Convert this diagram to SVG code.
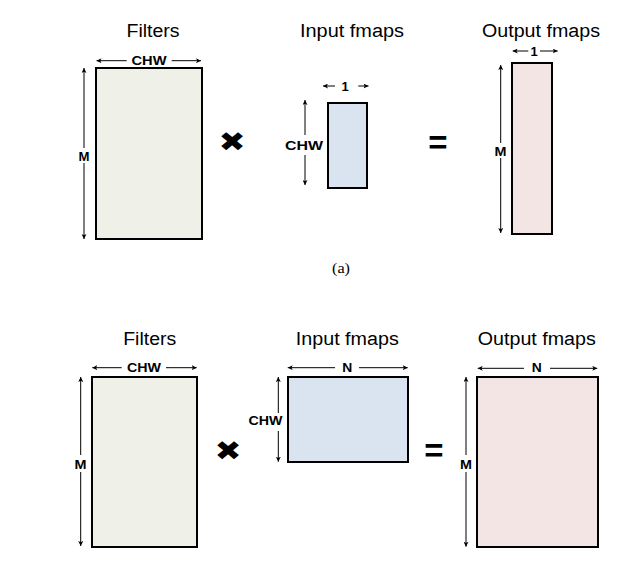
<svg xmlns="http://www.w3.org/2000/svg" width="634" height="561" viewBox="0 0 634 561">
<defs>
<marker id="ah" viewBox="0 0 10 10" refX="10" refY="5" markerWidth="5" markerHeight="5" orient="auto-start-reverse" markerUnits="userSpaceOnUse">
<path d="M0,0 L10,5 L0,10 L2.5,5 Z" fill="#000"/>
</marker>
</defs>
<style>
.title{font-family:"Liberation Sans",Arial,sans-serif;font-size:18px;fill:#000;text-anchor:middle}
.lbl{font-family:"Liberation Sans",Arial,sans-serif;font-size:13px;font-weight:bold;fill:#000;text-anchor:middle}
.op{font-family:"Liberation Sans",Arial,sans-serif;font-weight:bold;fill:#000;text-anchor:middle}
.x{font-family:"DejaVu Sans",sans-serif;font-size:27px;fill:#000;text-anchor:middle}
.cap{font-family:"Liberation Serif","Times New Roman",serif;font-size:14px;fill:#000;text-anchor:middle}
.dim{stroke:#000;stroke-width:1;fill:none;marker-end:url(#ah)}
.mat{stroke:#000;stroke-width:2}
.f{fill:#eff1e8}
.i{fill:#dae4f1}
.o{fill:#f3e5e3}
</style>
<rect width="634" height="561" fill="#fff"/>

<!-- (a) -->
<g id="a-filters">
<text class="title" x="153" y="37" textLength="53" lengthAdjust="spacingAndGlyphs">Filters</text>
<rect class="mat f" x="96" y="68" width="106" height="171"/>
<text class="lbl" x="149" y="65" textLength="35" lengthAdjust="spacingAndGlyphs">CHW</text>
<text class="lbl" x="84" y="160.5" textLength="11" lengthAdjust="spacingAndGlyphs">M</text>
</g>
<g id="a-times"><text class="x" transform="translate(232,141) scale(1.2,1)" x="0" y="10">✖</text></g>
<g id="a-input">
<text class="title" x="352" y="37" textLength="104" lengthAdjust="spacingAndGlyphs">Input fmaps</text>
<rect class="mat i" x="328" y="103" width="39" height="85"/>
<text class="lbl" x="345" y="90.5">1</text>
<text class="lbl" x="304" y="150" textLength="38" lengthAdjust="spacingAndGlyphs">CHW</text>
</g>
<g id="a-equals"><text class="op" x="438" y="153.7" font-size="33">=</text></g>
<g id="a-output">
<text class="title" x="541" y="37" textLength="118" lengthAdjust="spacingAndGlyphs">Output fmaps</text>
<rect class="mat o" x="512" y="63" width="40" height="171"/>
<text class="lbl" x="534" y="55.5">1</text>
<text class="lbl" x="500.5" y="155.7" textLength="12" lengthAdjust="spacingAndGlyphs">M</text>
</g>
<text id="caption-a" class="cap" x="341" y="273" textLength="18" lengthAdjust="spacingAndGlyphs">(a)</text>

<!-- (b) -->
<g id="b-filters">
<text class="title" x="149.7" y="345" textLength="53" lengthAdjust="spacingAndGlyphs">Filters</text>
<rect class="mat f" x="92" y="377" width="105" height="170"/>
<text class="lbl" x="144" y="372.3" textLength="34" lengthAdjust="spacingAndGlyphs">CHW</text>
<text class="lbl" x="80.5" y="469" textLength="12" lengthAdjust="spacingAndGlyphs">M</text>
</g>
<g id="b-times"><text class="x" transform="translate(228,449.5) scale(1.2,1)" x="0" y="10">✖</text></g>
<g id="b-input">
<text class="title" x="347.3" y="345" textLength="103" lengthAdjust="spacingAndGlyphs">Input fmaps</text>
<rect class="mat i" x="288" y="377" width="120" height="85"/>
<text class="lbl" x="347.3" y="372.3" textLength="10" lengthAdjust="spacingAndGlyphs">N</text>
<text class="lbl" x="265.5" y="425" textLength="34" lengthAdjust="spacingAndGlyphs">CHW</text>
</g>
<g id="b-equals"><text class="op" x="434" y="461.7" font-size="33">=</text></g>
<g id="b-output">
<text class="title" x="536.8" y="345" textLength="118" lengthAdjust="spacingAndGlyphs">Output fmaps</text>
<rect class="mat o" x="477" y="377" width="121" height="170"/>
<text class="lbl" x="536.7" y="372.3" textLength="10" lengthAdjust="spacingAndGlyphs">N</text>
<text class="lbl" x="466" y="469.3" textLength="12" lengthAdjust="spacingAndGlyphs">M</text>
</g>

<g id="connectors">
<!-- (a) filters -->
<line class="dim" x1="126.7" y1="60.7" x2="96.5" y2="60.7"/>
<line class="dim" x1="171.7" y1="60.7" x2="201" y2="60.7"/>
<line class="dim" x1="84" y1="148" x2="84" y2="68"/>
<line class="dim" x1="84" y1="163" x2="84" y2="239"/>
<!-- (a) input -->
<line class="dim" x1="335" y1="86" x2="323" y2="86"/>
<line class="dim" x1="358.3" y1="86" x2="368.5" y2="86"/>
<line class="dim" x1="305" y1="135" x2="305" y2="100"/>
<line class="dim" x1="305" y1="155" x2="305" y2="185"/>
<!-- (a) output -->
<line class="dim" x1="528.3" y1="51" x2="512.7" y2="51"/>
<line class="dim" x1="540" y1="51" x2="557.7" y2="51"/>
<line class="dim" x1="500.7" y1="143" x2="500.7" y2="65"/>
<line class="dim" x1="500.7" y1="158" x2="500.7" y2="233"/>
<!-- (b) filters -->
<line class="dim" x1="121.7" y1="367.7" x2="92.3" y2="367.7"/>
<line class="dim" x1="166" y1="367.7" x2="196.7" y2="367.7"/>
<line class="dim" x1="80.7" y1="455" x2="80.7" y2="377"/>
<line class="dim" x1="80.7" y1="472" x2="80.7" y2="546"/>
<!-- (b) input -->
<line class="dim" x1="335" y1="367.7" x2="287.7" y2="367.7"/>
<line class="dim" x1="359" y1="367.7" x2="407.7" y2="367.7"/>
<line class="dim" x1="278.3" y1="413" x2="278.3" y2="377"/>
<line class="dim" x1="278.3" y1="431" x2="278.3" y2="461.7"/>
<!-- (b) output -->
<line class="dim" x1="524" y1="368.3" x2="477.7" y2="368.3"/>
<line class="dim" x1="550" y1="368.3" x2="597.3" y2="368.3"/>
<line class="dim" x1="466" y1="455" x2="466" y2="377"/>
<line class="dim" x1="466" y1="472" x2="466" y2="546.7"/>
</g>
</svg>
